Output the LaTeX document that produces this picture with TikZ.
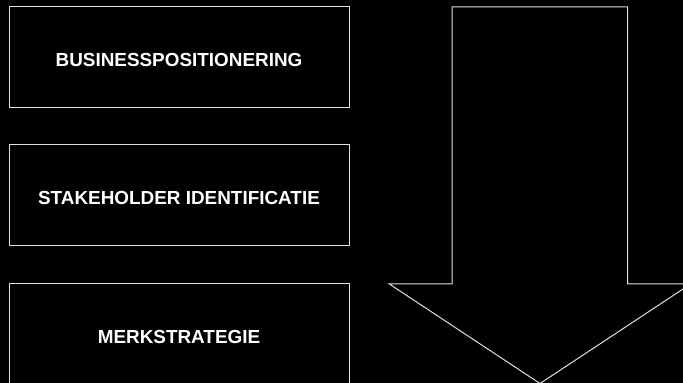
\documentclass[tikz,border=0pt]{standalone}
\usepackage{fontspec}
\setmainfont{Liberation Sans}
\begin{document}
\begin{tikzpicture}[x=1pt,y=1pt,
  stagebox/.style={draw=white!88!black, line width=1pt, fill=black, text=white,
    minimum width=340pt, minimum height=101pt, inner sep=0pt,
    text height=17.5pt, text depth=0pt,
    font=\fontsize{18.9}{21}\selectfont\bfseries},
  bigarrow/.style={draw=white!88!black, line width=1pt, fill=black}]
\useasboundingbox (0,0) rectangle (683,383);
\fill[black] (0,0) rectangle (683,383);
\node[stagebox] (b1) at (179,325.5) {BUSINESSPOSITIONERING};
\node[stagebox] (b2) at (179,187.5) {STAKEHOLDER IDENTIFICATIE};
\node[stagebox] (b3) at (179,48.5) {MERKSTRATEGIE};
\draw[bigarrow] (452,376) -- (627.7,376) -- (627.7,99) -- (690.6,99)
  -- (540,-0.5) -- (389.3,99) -- (452,99) -- cycle;
\end{tikzpicture}
\end{document}
